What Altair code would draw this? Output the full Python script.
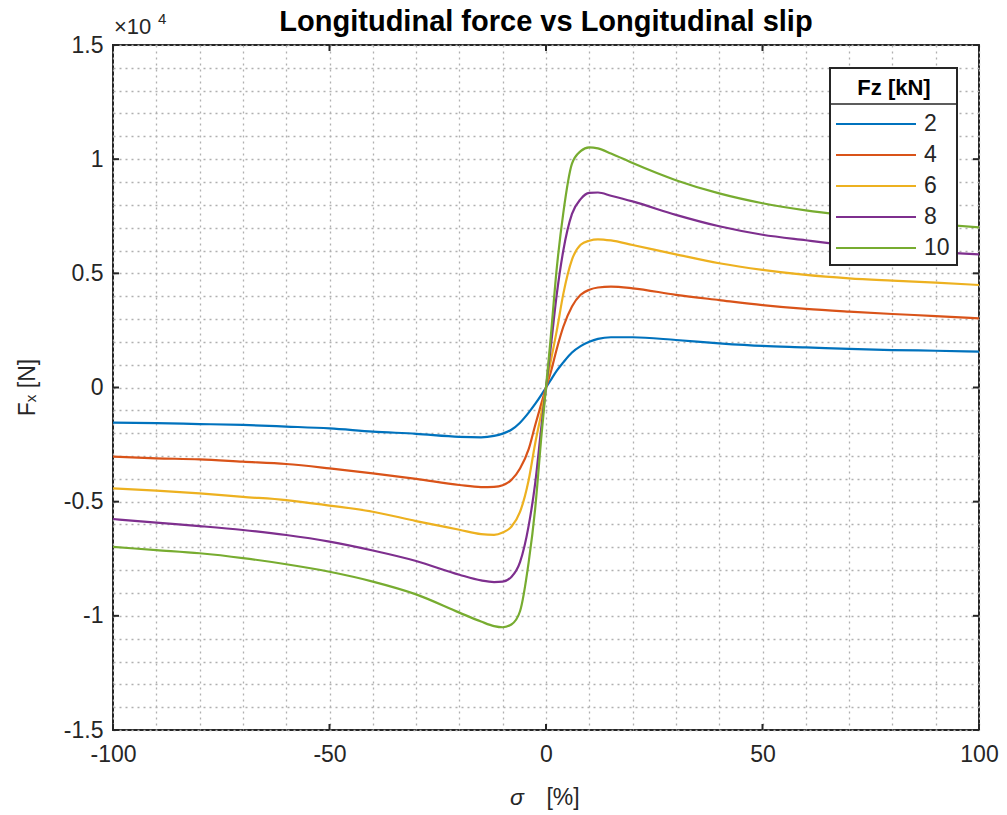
import altair as alt
import pandas as pd

# ---- data ----
slip = [-100, -90, -80, -70, -60, -50, -40, -30, -20, -15, -12, -10, -8, -6, -4, -2.5, -1,
        0, 1, 2.5, 4, 6, 8, 10, 12, 15, 20, 30, 40, 50, 60, 70, 80, 90, 100]

fx_2 = [-1540, -1560, -1600, -1640, -1710, -1790, -1930, -2030, -2160, -2180, -2120, -2020, -1850, -1540, -1100, -720, -300,
        0, 300, 740, 1100, 1530, 1810, 2000, 2130, 2200, 2200, 2080, 1935, 1820, 1760, 1690, 1640, 1610, 1570]
fx_4 = [-3030, -3100, -3150, -3250, -3350, -3540, -3760, -4000, -4270, -4360, -4350, -4280, -4050, -3550, -2700, -1650, -650,
        0, 600, 1700, 2660, 3550, 4060, 4280, 4380, 4415, 4345, 4060, 3830, 3610, 3440, 3320, 3220, 3130, 3030]
fx_6 = [-4420, -4520, -4640, -4790, -4930, -5170, -5440, -5850, -6230, -6420, -6450, -6350, -6100, -5450, -4050, -2450, -1050,
        0, 1050, 2500, 4100, 5600, 6250, 6430, 6490, 6440, 6240, 5830, 5440, 5150, 4930, 4780, 4680, 4590, 4490]
fx_8 = [-5760, -5920, -6070, -6240, -6460, -6750, -7140, -7600, -8200, -8450, -8520, -8500, -8300, -7650, -6050, -4200, -1600,
        0, 1600, 4100, 6000, 7600, 8250, 8520, 8540, 8400, 8150, 7560, 7060, 6690, 6450, 6230, 6060, 5930, 5830]
fx_10 = [-6980, -7120, -7260, -7470, -7740, -8070, -8500, -9060, -9860, -10250, -10450, -10500, -10380, -9800, -7650, -5300, -2000,
         0, 2000, 5250, 7650, 9800, 10350, 10520, 10470, 10250, 9830, 9080, 8500, 8070, 7760, 7530, 7330, 7160, 7010]

fz_labels = ["2", "4", "6", "8", "10"]
series = [fx_2, fx_4, fx_6, fx_8, fx_10]
colors = ["#0072BD", "#D95319", "#EDB120", "#7E2F8E", "#77AC30"]

x_ticks = [-100, -50, 0, 50, 100]
y_ticks = [-15000, -10000, -5000, 0, 5000, 10000, 15000]
x_grid = list(range(-100, 101, 10))
y_grid = list(range(-15000, 15001, 1000))

rows = []
for fz, vals in zip(fz_labels, series):
    for s, f in zip(slip, vals):
        rows.append({"slip": s, "fx": f, "fz": fz})
df = pd.DataFrame(rows)

W, H = 866, 685
FONT = "Liberation Sans, Arial, Helvetica, sans-serif"
AX = "#262626"
GRID = "#b0b0b0"

xscale = alt.Scale(domain=[-100, 100], nice=False, zero=False)
yscale = alt.Scale(domain=[-15000, 15000], nice=False, zero=False)

xaxis = alt.Axis(values=x_grid, labelExpr="datum.value % 50 === 0 ? toString(datum.value) : ''",
                 ticks=False, domain=False, grid=True, gridDash=[2, 4], gridColor=GRID,
                 gridWidth=1.3, title=None, labelFlush=False, labelOverlap=False,
                 labelPadding=13, labelFontSize=23, labelFont=FONT, labelColor=AX)
yaxis = alt.Axis(values=y_grid, labelExpr="datum.value % 5000 === 0 ? toString(datum.value / 10000) : ''",
                 ticks=False, domain=False, grid=True, gridDash=[2, 4], gridColor=GRID,
                 gridWidth=1.3, title=None, labelFlush=False, labelOverlap=False,
                 labelPadding=10, labelFontSize=23, labelFont=FONT, labelColor=AX)

lines = alt.Chart(df).mark_line(strokeWidth=2.2, clip=True, interpolate="monotone").encode(
    x=alt.X("slip:Q", scale=xscale, axis=xaxis),
    y=alt.Y("fx:Q", scale=yscale, axis=yaxis),
    color=alt.Color("fz:N", scale=alt.Scale(domain=fz_labels, range=colors), legend=None),
)

xt = pd.DataFrame({"slip": x_ticks})
yt = pd.DataFrame({"fx": y_ticks})
tick_layers = [
    alt.Chart(xt).mark_rule(color=AX, strokeWidth=2).encode(
        x=alt.X("slip:Q", scale=xscale, axis=xaxis), y=alt.value(H - 6), y2=alt.value(H)),
    alt.Chart(xt).mark_rule(color=AX, strokeWidth=2).encode(
        x=alt.X("slip:Q", scale=xscale, axis=xaxis), y=alt.value(0), y2=alt.value(6)),
    alt.Chart(yt).mark_rule(color=AX, strokeWidth=2).encode(
        y=alt.Y("fx:Q", scale=yscale, axis=yaxis), x=alt.value(0), x2=alt.value(6)),
    alt.Chart(yt).mark_rule(color=AX, strokeWidth=2).encode(
        y=alt.Y("fx:Q", scale=yscale, axis=yaxis), x=alt.value(W - 6), x2=alt.value(W)),
]

one = pd.DataFrame({"a": [0]})


def txt(s, x, y, size, **kw):
    return alt.Chart(one).mark_text(text=s, fontSize=size, font=FONT, **kw).encode(
        x=alt.value(x), y=alt.value(y))


texts = [
    txt("Longitudinal force vs Longitudinal slip", W / 2, -14, 29, fontWeight="bold",
        color="black", align="center", baseline="alphabetic"),
    txt("×10", 1, -11, 22, color=AX, align="left", baseline="alphabetic"),
    txt("4", 45, -21, 15, color=AX, align="left", baseline="alphabetic"),
    txt("σ", 404, 760, 23, fontStyle="italic", color=AX, align="center", baseline="alphabetic"),
    txt("[%]", 450, 760, 23, color=AX, align="center", baseline="alphabetic"),
    txt("Fₓ  [N]", -85, H / 2, 23, color=AX, align="center", baseline="middle", angle=270),
]

# legend box
LX0, LX1, LY0, LY1 = 717, 844, 23, 220
legend_layers = [
    alt.Chart(one).mark_rect(fill="white", stroke=AX, strokeWidth=2).encode(
        x=alt.value(LX0), x2=alt.value(LX1), y=alt.value(LY0), y2=alt.value(LY1)),
    alt.Chart(one).mark_rule(color=AX, strokeWidth=1.5).encode(
        x=alt.value(LX0), x2=alt.value(LX1), y=alt.value(59)),
    txt("Fz [kN]", 781, 50, 22, fontWeight="bold", color="black", align="center", baseline="alphabetic"),
]
for i, (lab, col) in enumerate(zip(fz_labels, colors)):
    yy = 79 + 31 * i
    legend_layers.append(
        alt.Chart(one).mark_rule(color=col, strokeWidth=2.2).encode(
            x=alt.value(723), x2=alt.value(803), y=alt.value(yy)))
    legend_layers.append(txt(lab, 811, yy, 23, color=AX, align="left", baseline="middle"))

chart = alt.layer(lines, *tick_layers, *texts, *legend_layers).properties(
    width=W, height=H,
    autosize=alt.AutoSizeParams(type="none"),
    padding={"left": 113, "top": 45, "right": 28, "bottom": 85},
    background="white",
).configure_view(stroke=AX, strokeWidth=2)

chart.save("out.html", embed_options={"renderer": "svg", "actions": False})
